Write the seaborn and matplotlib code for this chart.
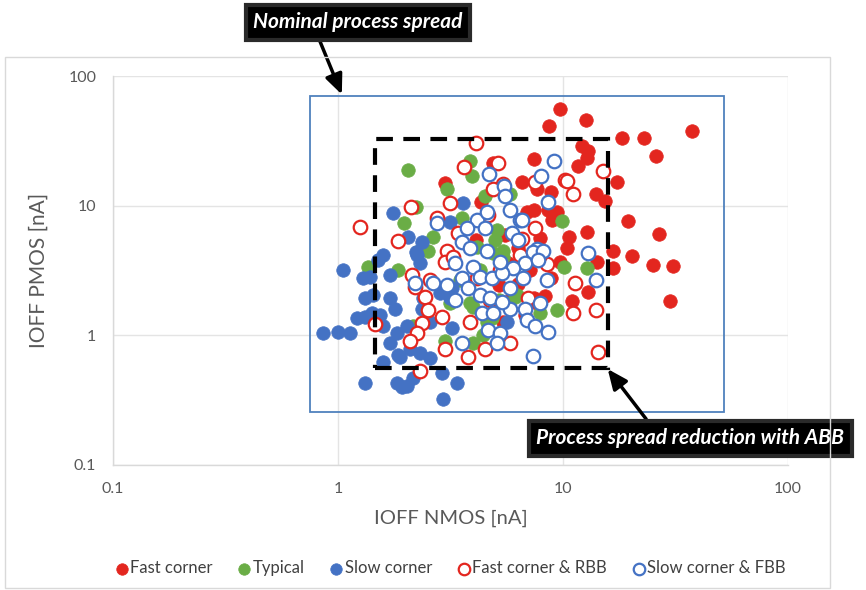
import numpy as np
import pandas as pd
import matplotlib
matplotlib.use("Agg")
import matplotlib.pyplot as plt
import matplotlib.patches as mpatches
import matplotlib.ticker as mticker
import seaborn as sns

# ---------------- data ----------------
fast_x = [9.7, 12.7, 8.7, 18.3, 22.9, 37.4, 12.1, 12.9, 12.8, 11.7, 25.9, 7.4, 17.4, 6.6, 7.7,
          8.8, 14.0, 15.4, 7.4, 9.0, 8.9, 19.4, 12.8, 26.7, 10.6, 7.9, 10.4, 16.7, 20.3, 25.1,
          30.8, 14.2, 29.9, 12.9, 11.0, 8.3, 8.8, 3.0, 4.9, 4.3, 6.9, 5.5, 6.3, 8.6, 9.4,
          5.7, 6.3, 7.4, 5.4, 7.7, 16.7, 4.7, 4.1, 7.1, 9.7, 5.8, 6.8, 5.2]
fast_y = [56, 46, 41, 33, 33, 37.4, 28.7, 26.2, 23.2, 20.1, 24.0, 22.8, 15.1, 15.1, 13.4,
          12.7, 12.4, 10.8, 9.2, 8.7, 7.7, 7.6, 6.3, 6.1, 5.7, 5.6, 4.7, 4.5, 4.1, 3.5,
          3.4, 3.7, 1.83, 2.15, 1.83, 2.0, 2.75, 14.9, 21.2, 10.6, 8.9, 5.9, 4.7, 9.2, 8.9,
          3.6, 2.5, 1.93, 1.26, 1.77, 3.3, 4.5, 5.4, 3.2, 3.7, 1.86, 1.43, 2.43]

typ_x = [2.05, 3.86, 3.94, 3.05, 4.5, 2.22, 1.96, 2.64, 3.56, 5.1, 5.0, 5.8, 2.5, 4.15, 9.9,
         10.1, 12.8, 9.4, 7.9, 6.1, 1.36, 1.85, 2.24, 3.15, 3.0, 3.98, 4.4, 4.83, 3.86, 2.15,
         4.9, 5.4, 3.98, 4.6, 5.2, 6.25, 5.4, 3.48, 4.28]
typ_y = [19.0, 22, 16.8, 13.4, 11.8, 9.8, 7.4, 5.7, 8.0, 6.5, 5.4, 12.4, 4.5, 4.77, 7.6,
         3.35, 3.3, 1.56, 1.48, 1.96, 3.35, 3.2, 4.4, 1.77, 0.91, 0.88, 1.0, 1.35, 1.77, 1.19,
         4.3, 4.5, 1.65, 1.26, 1.86, 2.03, 4.0, 2.65, 3.17]

slow_x = [1.05, 1.29, 1.39, 1.70, 1.51, 1.32, 1.43, 1.70, 1.79, 1.21, 1.32, 1.42, 1.54, 1.58,
          0.86, 1.0, 1.13, 1.70, 1.83, 2.03, 1.85, 2.09, 1.58, 2.31, 2.56, 1.83, 2.03, 2.15,
          1.32, 2.93, 3.38, 2.90, 2.36, 2.39, 2.31, 2.24, 3.15, 3.21, 3.21, 2.56, 5.64, 1.76,
          3.59, 2.05, 2.36, 3.15, 2.22, 1.89, 1.92, 2.84, 1.58]
slow_y = [3.17, 2.75, 2.8, 2.9, 3.79, 1.93, 2.03, 1.93, 1.61, 1.35, 1.38, 1.48, 1.43, 1.19,
          1.05, 1.07, 1.04, 0.88, 1.05, 1.19, 0.70, 0.79, 0.62, 0.73, 0.67, 0.43, 0.41, 0.47,
          0.43, 0.32, 0.43, 0.51, 1.61, 1.93, 3.59, 4.14, 1.93, 1.13, 2.30, 1.26, 1.26, 8.73,
          10.4, 5.7, 5.21, 7.43, 4.36, 0.68, 0.40, 2.11, 4.14]

rbb_x = [4.1, 3.63, 5.14, 5.41, 4.89, 2.11, 3.15, 1.25, 1.85, 2.75, 4.64, 3.41, 3.05, 6.6,
         10.2, 11.1, 15.1, 7.5, 7.5, 10.4, 11.3, 11.1, 14.0, 14.3, 8.5, 5.8, 7.0, 3.0, 2.13,
         2.56, 2.44, 2.51, 2.9, 2.36, 2.24, 2.09, 1.46, 3.0, 3.78, 3.86, 4.5, 2.31, 4.15,
         3.24, 2.2, 5.25, 6.44, 4.74, 7.9]
rbb_y = [30.3, 19.7, 21.2, 14.6, 13.4, 9.7, 10.4, 6.9, 5.3, 8.0, 8.4, 6.2, 4.5, 5.5,
         15.7, 12.4, 18.4, 6.7, 15.1, 15.4, 2.52, 1.48, 1.56, 0.75, 3.53, 0.88, 1.93, 3.66, 2.9,
         2.66, 1.96, 1.56, 1.38, 1.24, 1.04, 0.91, 1.22, 0.78, 0.68, 1.26, 0.78, 0.53, 2.75,
         4.0, 2.34, 3.17, 4.14, 1.86, 4.14]

fbb_x = [4.69, 5.47, 5.52, 5.81, 6.44, 4.15, 4.6, 4.5, 3.74, 2.75, 5.93, 3.56, 3.86, 4.6,
         9.1, 7.98, 8.58, 6.58, 7.66, 12.9, 14.0, 7.36, 8.15, 6.78, 7.74, 6.0, 6.64, 8.49,
         5.81, 7.9, 6.78, 5.81, 6.92, 7.5, 8.58, 7.36, 3.31, 3.98, 3.56, 4.28, 4.83, 5.36,
         2.2, 2.64, 3.05, 3.78, 4.28, 4.74, 5.36, 4.36, 4.89, 4.64, 5.25, 5.09, 3.56, 5.25,
         3.31, 6.31]
fbb_y = [17.4, 14.3, 11.8, 9.2, 7.7, 7.7, 8.9, 6.7, 6.7, 7.3, 6.2, 5.2, 4.69, 4.5,
         22, 16.8, 10.6, 7.8, 4.6, 4.3, 2.66, 4.36, 4.44, 3.6, 3.79, 3.29, 2.75, 2.66,
         2.3, 1.77, 1.61, 1.61, 1.31, 1.19, 1.07, 0.69, 3.6, 3.34, 2.75, 2.8, 2.75, 3.0,
         2.52, 2.52, 2.43, 2.3, 2.03, 1.93, 1.8, 1.48, 1.48, 1.09, 1.05, 0.88, 0.88, 3.66,
         1.86, 5.4]

series_names = ["Fast corner", "Typical", "Slow corner", "Fast corner & RBB", "Slow corner & FBB"]
tick_vals = [0.1, 1, 10, 100]
tick_labels = ["0.1", "1", "10", "100"]

# boxes (data units)
nominal_box = (0.75, 0.255, 52.0, 70.0)     # x0, y0, x1, y1
abb_box = (1.46, 0.56, 15.8, 32.6)

RED = "#E3261F"
GREEN = "#6AAD46"
BLUE = "#4472C4"
GRAY_TXT = "#595959"

# ---------------- plotting ----------------
sns.set_style("white")
plt.rcParams["font.family"] = ["Lato", "DejaVu Sans"]

fig = plt.figure(figsize=(8.66, 5.90), dpi=100)
W, H = 866, 590
ax = fig.add_axes([113 / W, 1 - 465 / H, (788 - 113) / W, (465 - 76) / H])

# outer chart border
fig.patches.append(mpatches.Rectangle((5 / W, 2 / H), 825 / W, (590 - 57 - 2) / H,
                                      transform=fig.transFigure, fill=False,
                                      edgecolor="#D9D9D9", lw=1.0, zorder=0))

datasets = [
    (fast_x, fast_y, dict(color=RED, edgecolor=RED, linewidth=0.5)),
    (typ_x, typ_y, dict(color=GREEN, edgecolor=GREEN, linewidth=0.5)),
    (slow_x, slow_y, dict(color=BLUE, edgecolor=BLUE, linewidth=0.5)),
    (rbb_x, rbb_y, dict(facecolor="white", edgecolor=RED, linewidth=1.6)),
    (fbb_x, fbb_y, dict(facecolor="white", edgecolor=BLUE, linewidth=1.6)),
]
for name, (xs, ys, kw) in zip(series_names, datasets):
    df = pd.DataFrame({"x": xs, "y": ys})
    sns.scatterplot(data=df, x="x", y="y", ax=ax, s=95, label=name, zorder=3, **kw)

ax.set_xscale("log")
ax.set_yscale("log")
ax.set_xlim(0.1, 100)
ax.set_ylim(0.1, 100)
ax.set_xticks(tick_vals)
ax.set_xticklabels(tick_labels)
ax.set_yticks(tick_vals)
ax.set_yticklabels(tick_labels)
ax.xaxis.set_minor_locator(mticker.LogLocator(base=10, subs=np.arange(2, 10)))
ax.yaxis.set_minor_locator(mticker.LogLocator(base=10, subs=np.arange(2, 10)))
ax.xaxis.set_minor_formatter(mticker.NullFormatter())
ax.yaxis.set_minor_formatter(mticker.NullFormatter())

ax.grid(True, which="major", color="#E4E4E4", lw=1.0, zorder=0)
ax.tick_params(axis="both", which="major", length=0, labelsize=11.5, labelcolor=GRAY_TXT, pad=12)
ax.tick_params(axis="both", which="minor", direction="in", length=4, color="#D0D0D0", width=0.8)
for side in ["top", "right"]:
    ax.spines[side].set_visible(False)
for side in ["left", "bottom"]:
    ax.spines[side].set_color("#D9D9D9")
    ax.spines[side].set_linewidth(1.0)

ax.set_xlabel("IOFF NMOS [nA]", fontsize=14.5, color=GRAY_TXT, labelpad=10)
ax.set_ylabel("IOFF PMOS [nA]", fontsize=15, color=GRAY_TXT, labelpad=14)

# nominal process spread rectangle
x0, y0, x1, y1 = nominal_box
ax.add_patch(mpatches.Rectangle((x0, y0), x1 - x0, y1 - y0, fill=False,
                                edgecolor="#4F81BD", lw=1.3, zorder=2))
# ABB rectangle
x0, y0, x1, y1 = abb_box
ax.add_patch(mpatches.Rectangle((x0, y0), x1 - x0, y1 - y0, fill=False,
                                edgecolor="black", lw=3.0, linestyle=(0, (4, 2.5)), zorder=4))

# annotations
box_kw = dict(boxstyle="square,pad=0.36", facecolor="black", edgecolor="#2a2a2a", lw=3)
arrow_kw = dict(arrowstyle="-|>,head_length=0.8,head_width=0.35", lw=2.5,
                color="black", shrinkA=0, shrinkB=0)
ax.annotate("Nominal process spread", xy=(1.04, 72), xycoords="data",
            xytext=(358 / W, 1 - 22 / H), textcoords="figure fraction",
            ha="center", va="center", fontsize=15, fontweight="bold", fontstyle="italic",
            color="white", bbox=box_kw, annotation_clip=False,
            arrowprops=dict(relpos=(0.3, 0.0), **arrow_kw))
ax.annotate("Process spread reduction with ABB", xy=(15.8, 0.55), xycoords="data",
            xytext=(690 / W, 1 - 438 / H), textcoords="figure fraction",
            ha="center", va="center", fontsize=15, fontweight="bold", fontstyle="italic",
            color="white", bbox=box_kw, annotation_clip=False,
            arrowprops=dict(relpos=(0.38, 1.0), **arrow_kw))

# legend
handles, labels = ax.get_legend_handles_labels()
leg = fig.legend(handles, labels, loc="center", bbox_to_anchor=(447 / W, 1 - 568 / H),
                 ncol=5, frameon=False, fontsize=12, handletextpad=-0.3,
                 columnspacing=1.1, markerscale=0.85, borderaxespad=0, handlelength=1.6)
for t in leg.get_texts():
    t.set_color("#404040")
ax.get_legend().remove()

fig.savefig("out.png", dpi=100)
